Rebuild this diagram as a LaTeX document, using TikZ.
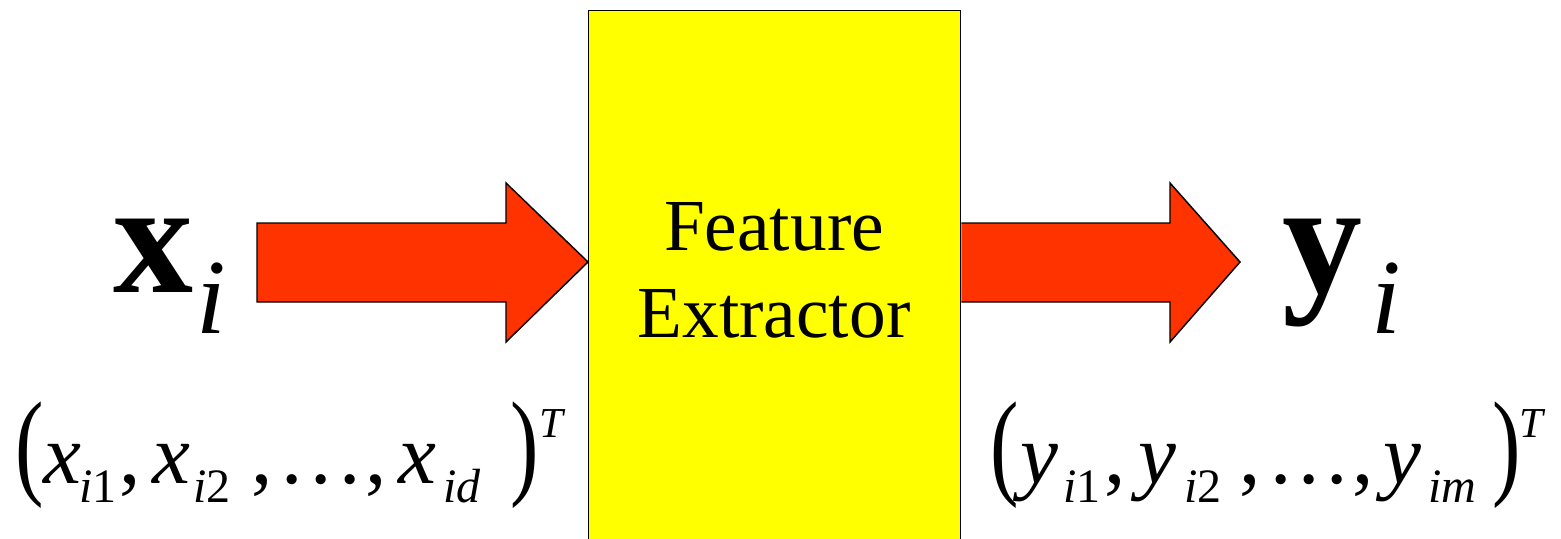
\documentclass[tikz,border=0pt]{standalone}
\usepackage{fontspec}
\setmainfont{Liberation Serif}
\usepackage{graphicx}
\definecolor{arrowred}{RGB}{255,51,0}
\definecolor{boxyellow}{RGB}{255,255,0}
\newlength\px
\setlength\px{0.75pt}
\newcommand\putat[2]{\makebox[0pt][l]{\hspace*{#1\px}#2}}
\newcommand\subx[1]{\raisebox{-19\px}{\fontsize{36}{36}\selectfont #1}}
\newcommand\supT{\raisebox{46\px}{\fontsize{32}{32}\selectfont\itshape T}}
\newcommand\lpar{\scalebox{1}[1.38]{(}}
\newcommand\rpar{\scalebox{1}[1.38]{)}}
\begin{document}
\begin{tikzpicture}[x=0.75pt,y=-0.75pt,
  blockarrow/.style={fill=arrowred,draw=black,line width=1.1pt,line join=miter},
  extractor/.style={fill=boxyellow,draw=black,line width=1.1pt,inner sep=0pt},
  bigtext/.style={inner sep=0pt,font=\fontsize{55}{65}\selectfont,align=center},
  vectext/.style={inner sep=0pt,anchor=base west},
  formula/.style={inner sep=0pt,anchor=base west,font=\fontsize{64}{64}\selectfont}]
\useasboundingbox (0,0) rectangle (1561,539);
\clip (0,0) rectangle (1561,539);
% box
\node[extractor,minimum width=372\px,minimum height=560\px,anchor=north west] (fe) at (588,10) {};
\node[bigtext] (fetext) at (774,270.5) {Feature\\Extractor};
% arrows
\coordinate (ltip) at (fe.west |- 0,262);
\coordinate (rstart) at (fe.east |- 0,262);
\coordinate (rtip) at (1240,262);
\draw[blockarrow] (257,223) -- (506,223) -- (506,183) -- (ltip) -- (506,342) -- (506,302) -- (257,302) -- cycle;
\draw[blockarrow] (rstart |- 0,223) -- (1170,223) -- (1170,183) -- (rtip) -- (1170,342) -- (1170,302) -- (rstart |- 0,302);
% vector labels
\node[vectext] (xi) at (113,292) {\fontsize{120}{120}\selectfont\textbf{x}\hspace{3\px}\raisebox{-41\px}{\fontsize{80}{80}\selectfont\itshape i}};
\node[vectext] (yi) at (1282,292) {\fontsize{120}{120}\selectfont\textbf{y}\hspace{9\px}\raisebox{-41\px}{\fontsize{80}{80}\selectfont\itshape i}};
% component formulas
\node[formula] (xcomp) at (15,483) {%
\putat{0}{\lpar}%
\putat{28}{\textit{x}}%
\putat{64}{\subx{\textit{i}1}}%
\putat{104}{,}%
\putat{137}{\textit{x}}%
\putat{178}{\subx{\textit{i}2}}%
\putat{236}{,}%
\putat{266}{.}%
\putat{295}{.}%
\putat{324}{.}%
\putat{350}{,}%
\putat{383}{\textit{x}}%
\putat{428}{\subx{\textit{id}}}%
\putat{495}{\rpar}%
\putat{524}{\supT}%
\hspace*{555\px}};
\node[formula] (ycomp) at (990,483) {%
\putat{0}{\lpar}%
\putat{30}{\textit{y}}%
\putat{73}{\subx{\textit{i}1}}%
\putat{114}{,}%
\putat{148}{\textit{y}}%
\putat{194}{\subx{\textit{i}2}}%
\putat{249}{,}%
\putat{280}{.}%
\putat{308}{.}%
\putat{336}{.}%
\putat{362}{,}%
\putat{393}{\textit{y}}%
\putat{438}{\subx{\textit{im}}}%
\putat{502}{\rpar}%
\putat{529}{\supT}%
\hspace*{555\px}};
\end{tikzpicture}
\end{document}
